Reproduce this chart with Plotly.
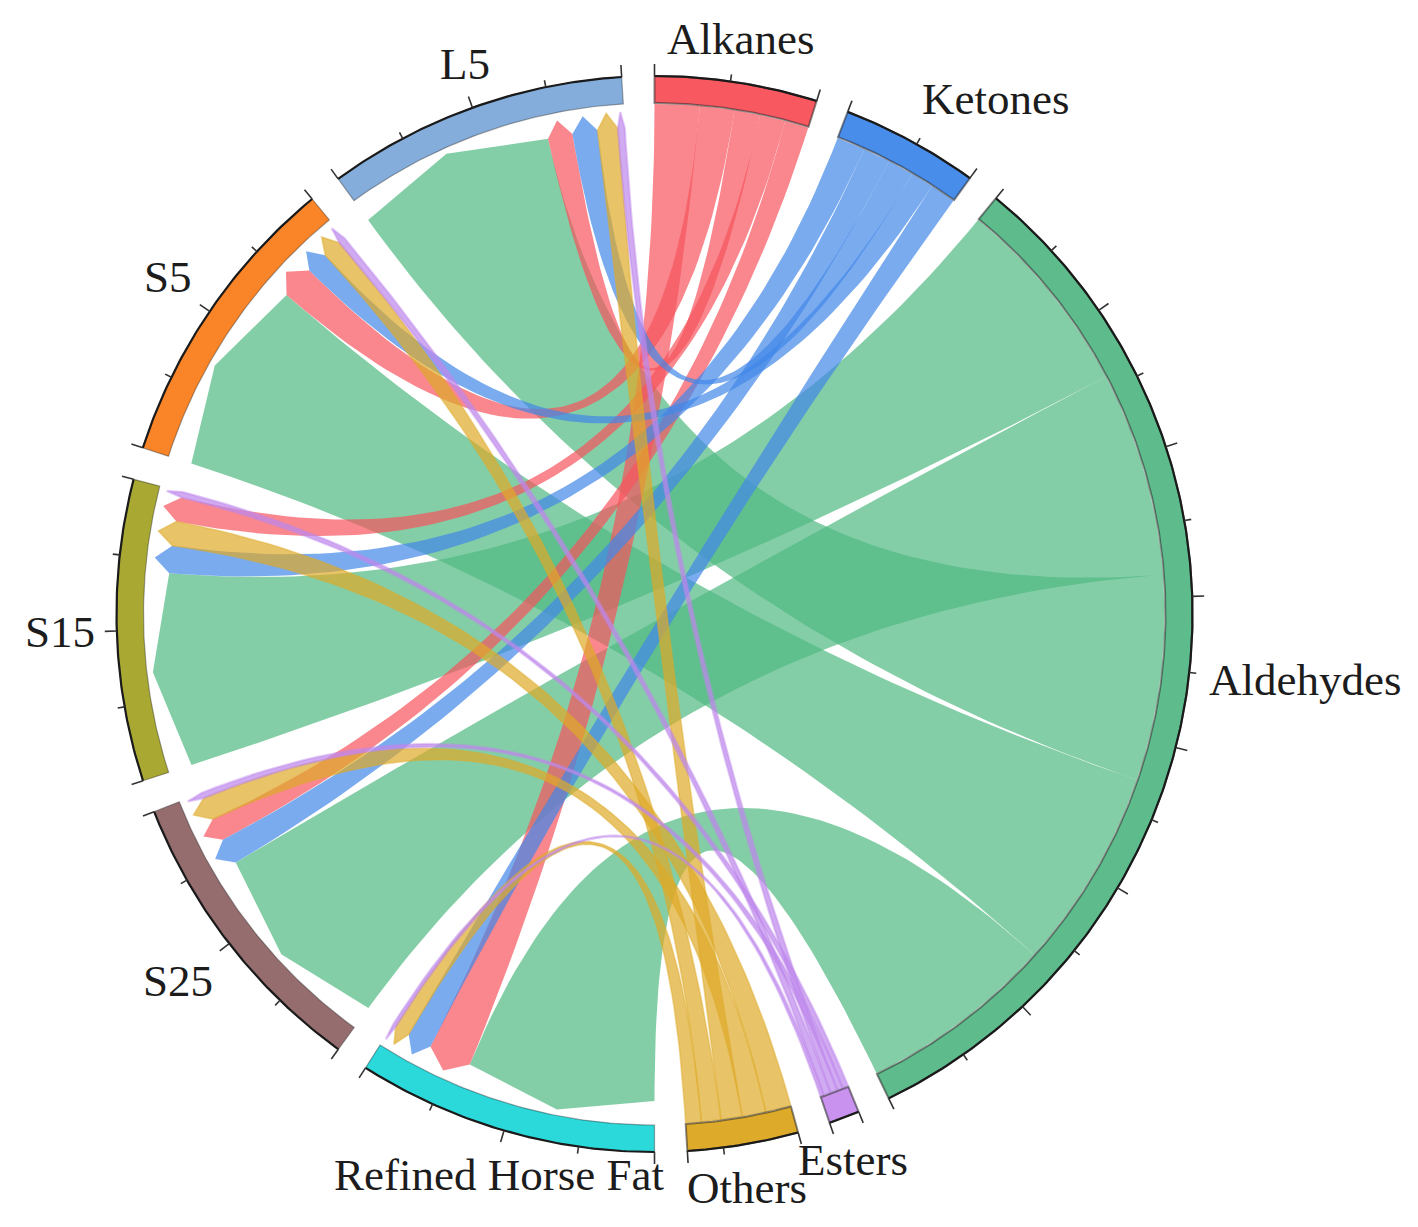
import numpy as np
import plotly.graph_objects as go

# ---- data (percent composition) ----
targets = ["Alkanes", "Ketones", "Aldehydes", "Esters", "Others"]
sources = ["Refined Horse Fat", "S25", "S15", "S5", "L5"]

alkanes = {"Refined Horse Fat": 15.7, "S5": 12.1, "L5": 9.0, "S15": 8.9, "S25": 8.3}
ketones = {"S15": 10.0, "S25": 9.5, "L5": 9.2, "S5": 8.0, "Refined Horse Fat": 9.0}
aldehydes = {"S15": 70.4, "S25": 71.8, "L5": 72.0, "S5": 70.6, "Refined Horse Fat": 68.6}
esters = {"S15": 2.0, "S25": 2.0, "L5": 2.5, "S5": 2.5, "Refined Horse Fat": 1.2}
others = {"S15": 8.9, "S25": 8.3, "L5": 7.4, "S5": 6.8, "Refined Horse Fat": 5.5}

# order of the links inside each source sector, clockwise
source_order = {
    "Refined Horse Fat": ["Aldehydes", "Alkanes", "Ketones", "Others", "Esters"],
    "S25": ["Aldehydes", "Ketones", "Alkanes", "Others", "Esters"],
    "S15": ["Aldehydes", "Ketones", "Others", "Alkanes", "Esters"],
    "S5": ["Aldehydes", "Alkanes", "Ketones", "Others", "Esters"],
    "L5": ["Aldehydes", "Alkanes", "Ketones", "Others", "Esters"],
}

colors = {
    "Alkanes": (248, 88, 95), "Ketones": (72, 141, 234), "Aldehydes": (93, 187, 140),
    "Esters": (200, 146, 238), "Others": (221, 170, 42),
    "Refined Horse Fat": (43, 216, 218), "S25": (149, 109, 111),
    "S15": (168, 168, 50), "S5": (249, 133, 40), "L5": (132, 173, 219),
}
chord_colors = {
    "Alkanes": (246, 84, 92), "Ketones": (66, 136, 232), "Aldehydes": (80, 185, 130),
    "Esters": (190, 136, 236), "Others": (222, 170, 40),
}
chord_stroke = {"Alkanes": 0, "Ketones": 0, "Aldehydes": 0, "Esters": 2.2, "Others": 1.6}

flows = {"Alkanes": alkanes, "Ketones": ketones, "Aldehydes": aldehydes,
         "Esters": esters, "Others": others}

# ---- layout constants ----
W, H = 1418, 1227
CX, CY = 654.5, 614.0
R_OUT, R_IN, R_ROOT = 538.0, 511.0, 510.0
R_SHOULDER, R_TIP = 487.0, 503.0
GAP = 3.5
CHORD_ALPHA = 0.7

sector_order = targets + sources
totals = {t: sum(flows[t].values()) for t in targets}
for s in sources:
    totals[s] = sum(flows[t][s] for t in targets)
scale = (360.0 - GAP * len(sector_order)) / sum(totals.values())

start = {}
a = 0.0
for name in sector_order:
    start[name] = a
    a += totals[name] * scale + GAP


def pt(r, deg):
    t = np.radians(deg)
    return r * np.sin(t), r * np.cos(t)


def arc(r, a0, a1, n=None):
    n = n or max(3, int(abs(a1 - a0) * 2) + 2)
    d = np.linspace(a0, a1, n)
    return r * np.sin(np.radians(d)), r * np.cos(np.radians(d))


def bez(p0, p1, n=70):
    t = np.linspace(0, 1, n)
    # quadratic curve whose control point is the circle centre
    return (1 - t) ** 2 * p0[0] + t ** 2 * p1[0], (1 - t) ** 2 * p0[1] + t ** 2 * p1[1]


def rgba(c, al):
    return f"rgba({c[0]},{c[1]},{c[2]},{al})"


# link angular ranges
src_range = {}
for s in sources:
    cur = start[s]
    for t in source_order[s]:
        w = flows[t][s] * scale
        src_range[(t, s)] = (cur, cur + w)
        cur += w
tgt_range = {}
for t in targets:
    cur = start[t]
    for s, v in flows[t].items():
        w = v * scale
        tgt_range[(t, s)] = (cur, cur + w)
        cur += w

fig = go.Figure()

# chords
for t in ["Aldehydes", "Alkanes", "Ketones", "Others", "Esters"]:
    for s in flows[t]:
        r0, r1 = tgt_range[(t, s)]
        s0, s1 = src_range[(t, s)]
        xs, ys = [], []
        ax, ay = arc(R_ROOT, r0, r1)
        xs.append(ax); ys.append(ay)
        bx, by = bez(pt(R_ROOT, r1), pt(R_SHOULDER, s0))
        xs.append(bx); ys.append(by)
        tipx, tipy = pt(R_TIP + (2 if t == "Aldehydes" else 0), (s0 + s1) / 2)
        xs.append([tipx]); ys.append([tipy])
        bx, by = bez(pt(R_SHOULDER, s1), pt(R_ROOT, r0))
        xs.append(bx); ys.append(by)
        sw = chord_stroke[t]
        fig.add_trace(go.Scatter(
            x=np.concatenate(xs), y=np.concatenate(ys), mode="lines",
            line=dict(width=sw, color=rgba(chord_colors[t], 0.45 if sw else 0)), fill="toself",
            fillcolor=rgba(chord_colors[t], CHORD_ALPHA), hoverinfo="skip", showlegend=False))

# ring sectors
for name in sector_order:
    a0 = start[name]
    a1 = a0 + totals[name] * scale
    ox, oy = arc(R_OUT, a0, a1)
    ix, iy = arc(R_IN, a1, a0)
    is_target = name in targets
    fig.add_trace(go.Scatter(
        x=np.concatenate([ox, ix, ox[:1]]), y=np.concatenate([oy, iy, oy[:1]]),
        mode="lines",
        line=dict(width=2 if is_target else 1.2, color="rgba(40,40,40,0.55)" if is_target else "rgba(40,40,40,0.4)"),
        fill="toself", fillcolor=rgba(colors[name], 1), hoverinfo="skip", showlegend=False))

# outer axis lines and ticks
lx, ly = [], []
tx_maj, ty_maj, tx_min, ty_min = [], [], [], []
for name in sector_order:
    a0 = start[name]
    total = totals[name]
    a1 = a0 + total * scale
    ox, oy = arc(R_OUT, a0, a1)
    lx += list(ox) + [None]
    ly += list(oy) + [None]
    vals = [v for v in np.arange(0, total, 25.0) if total - v > 6]
    for v in vals:
        deg = a0 + v * scale
        major = v % 50 == 0
        p0 = pt(R_OUT, deg)
        p1 = pt(R_OUT + (12 if major else 7), deg)
        (tx_maj if major else tx_min).extend([p0[0], p1[0], None])
        (ty_maj if major else ty_min).extend([p0[1], p1[1], None])
    p0, p1 = pt(R_OUT, a1), pt(R_OUT + 12, a1)
    tx_maj.extend([p0[0], p1[0], None])
    ty_maj.extend([p0[1], p1[1], None])

fig.add_trace(go.Scatter(x=lx, y=ly, mode="lines", line=dict(width=2.2, color="#1a1a1a"),
                         hoverinfo="skip", showlegend=False))
fig.add_trace(go.Scatter(x=tx_maj, y=ty_maj, mode="lines", line=dict(width=1.6, color="#333333"),
                         hoverinfo="skip", showlegend=False))
fig.add_trace(go.Scatter(x=tx_min, y=ty_min, mode="lines", line=dict(width=1.6, color="#333333"),
                         hoverinfo="skip", showlegend=False))

# labels (centre of text, in page pixels)
label_pos = {
    "L5": (465, 64), "Alkanes": (740, 39), "Ketones": (995, 99), "Aldehydes": (1305, 680),
    "Esters": (853, 1160), "Others": (747, 1188), "Refined Horse Fat": (499, 1175),
    "S25": (178, 981), "S15": (60, 632), "S5": (168, 277),
}
for name, (px, py) in label_pos.items():
    fig.add_annotation(x=px - CX, y=CY - py, text=name, showarrow=False,
                       xanchor="center", yanchor="middle",
                       font=dict(family="Liberation Serif", size=45, color="#1c1c1c"))

fig.update_layout(
    width=W, height=H, margin=dict(l=0, r=0, t=0, b=0),
    paper_bgcolor="white", plot_bgcolor="white", showlegend=False,
    xaxis=dict(range=[-CX, W - CX], visible=False, fixedrange=True),
    yaxis=dict(range=[CY - H, CY], visible=False, fixedrange=True),
)
fig.write_html("out.html", config={"displayModeBar": False},
               post_script="document.body.style.margin='0';document.body.style.overflow='hidden';")
